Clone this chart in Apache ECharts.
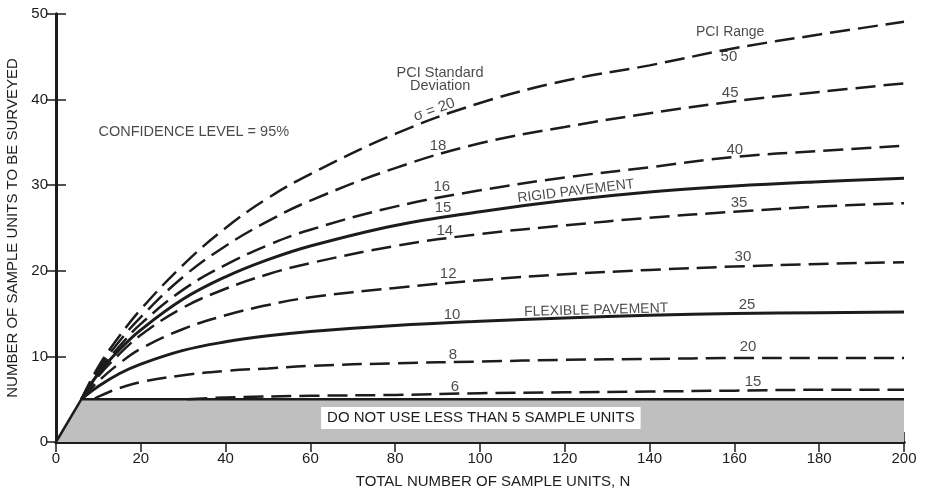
<!DOCTYPE html>
<html>
<head>
<meta charset="utf-8">
<script src="https://cdn.jsdelivr.net/npm/echarts@6/dist/echarts.min.js"></script>
<style>
  html, body { margin: 0; padding: 0; background: #fff; }
  #main { width: 929px; height: 491px; }
</style>
</head>
<body>
<div id="main"></div>
<script>
// sample units N (x) shared by the upper curves
const N = [6, 10, 15, 20, 30, 40, 50, 60, 80, 100, 120, 140, 160, 180, 200]
// n, one array per PCI standard deviation
const sigma20 = [5, 8.8, 12.4, 15.5, 20.7, 25.0, 28.5, 31.3, 36.0, 39.6, 42.2, 44.0, 46.0, 47.6, 49.1]
const sigma18 = [5, 8.5, 11.8, 14.6, 19.3, 22.9, 25.8, 28.2, 32.0, 34.9, 36.8, 38.4, 39.8, 40.9, 41.9]
const sigma16 = [5, 8.2, 11.2, 13.8, 17.8, 20.7, 23.0, 24.8, 27.5, 29.4, 30.9, 32.1, 33.3, 34.0, 34.6]
const sigma15 = [5, 8.0, 10.8, 13.1, 16.7, 19.3, 21.3, 22.9, 25.3, 26.9, 28.2, 29.2, 29.9, 30.4, 30.8]
const sigma14 = [5, 7.7, 10.3, 12.5, 15.7, 17.9, 19.6, 20.9, 22.9, 24.3, 25.3, 26.2, 26.9, 27.5, 27.9]
const sigma12 = [5, 7.1, 9.2, 10.9, 13.2, 14.8, 16.0, 16.9, 18.0, 18.9, 19.6, 20.1, 20.5, 20.8, 21.0]
const sigma10 = [5, 6.5, 8.0, 9.1, 10.7, 11.7, 12.4, 12.9, 13.6, 14.1, 14.5, 14.8, 15.0, 15.1, 15.2]
const N8 = [9, 10, 15, 20, 30, 40, 50, 60, 80, 100, 120, 140, 160, 180, 200]
const sigma8 = [5, 5.3, 6.3, 7.0, 7.8, 8.3, 8.6, 8.9, 9.2, 9.4, 9.6, 9.7, 9.8, 9.8, 9.8]
const N6 = [31, 40, 60, 80, 100, 120, 140, 160, 180, 200]
const sigma6 = [5.0, 5.2, 5.4, 5.5, 5.7, 5.8, 5.9, 6.0, 6.1, 6.1]
// minimum sample floor
const floorN = [0, 6, 200]
const floorValues = [0, 5, 5]

const xTicks = [0, 20, 40, 60, 80, 100, 120, 140, 160, 180, 200]
const yTicks = [0, 10, 20, 30, 40, 50]

const ink = '#1c1c1c'
const font = 'Liberation Sans'

function pairs (xs, ys) {
  return xs.map((x, i) => [x, ys[i]])
}

const curves = [
  { name: 'σ=20', x: N, y: sigma20, solid: false },
  { name: 'σ=18', x: N, y: sigma18, solid: false },
  { name: 'σ=16', x: N, y: sigma16, solid: false },
  { name: 'σ=15', x: N, y: sigma15, solid: true },
  { name: 'σ=14', x: N, y: sigma14, solid: false },
  { name: 'σ=12', x: N, y: sigma12, solid: false },
  { name: 'σ=10', x: N, y: sigma10, solid: true },
  { name: 'σ=8', x: N8, y: sigma8, solid: false },
  { name: 'σ=6', x: N6, y: sigma6, solid: false }
]

// text notes placed in data space: [text, N, n, rotate, size]
const notes = [
  ['PCI Standard\nDeviation', 90.6, 42.4, 0, 14.5],
  ['σ = 20', 89.2, 38.8, 20, 15],
  ['18', 90.1, 34.6, 0, 15],
  ['16', 91.0, 29.8, 0, 15],
  ['15', 91.3, 27.3, 0, 15],
  ['14', 91.7, 24.7, 0, 15],
  ['12', 92.5, 19.6, 0, 15],
  ['10', 93.4, 14.8, 0, 15],
  ['8', 93.6, 10.2, 0, 15],
  ['6', 94.1, 6.5, 0, 15],
  ['PCI Range', 159.0, 47.9, 0, 14],
  ['50', 158.7, 45.0, 0, 15],
  ['45', 159.0, 40.8, 0, 15],
  ['40', 160.1, 34.1, 0, 15],
  ['35', 161.1, 27.9, 0, 15],
  ['30', 162.0, 21.6, 0, 15],
  ['25', 163.0, 16.0, 0, 15],
  ['20', 163.2, 11.1, 0, 15],
  ['15', 164.4, 7.0, 0, 15],
  ['RIGID PAVEMENT', 122.6, 29.3, 7, 14],
  ['FLEXIBLE PAVEMENT', 127.4, 15.4, 1.5, 14],
  ['CONFIDENCE LEVEL = 95%', 32.5, 36.2, 0, 14.5]
]

const series = []

series.push({
  name: 'floor',
  type: 'line',
  data: pairs(floorN, floorValues),
  symbol: 'none',
  lineStyle: { color: ink, width: 2.5 },
  areaStyle: { color: '#bfbfbf', opacity: 1 },
  z: 1,
  markPoint: {
    symbol: 'rect',
    symbolSize: 0,
    data: [{ coord: [100.2, 2.8], value: 'DO NOT USE LESS THAN 5 SAMPLE UNITS' }],
    label: {
      show: true,
      formatter: '{c}',
      color: ink,
      fontFamily: font,
      fontSize: 15,
      backgroundColor: '#fff',
      padding: [4, 6, 3, 6]
    }
  }
})

curves.forEach(c => {
  series.push({
    name: c.name,
    type: 'line',
    data: pairs(c.x, c.y),
    smooth: 0.4,
    symbol: 'none',
    z: 3,
    lineStyle: {
      color: ink,
      width: c.solid ? 3 : 2.5,
      type: c.solid ? 'solid' : [20, 8]
    }
  })
})

series.push({
  name: 'notes',
  type: 'scatter',
  symbolSize: 0,
  z: 5,
  data: notes.map(n => ({
    value: [n[1], n[2]],
    label: {
      show: true,
      position: 'inside',
      formatter: n[0],
      rotate: n[3],
      fontSize: n[4],
      lineHeight: 13,
      color: ink,
      fontFamily: font
    }
  }))
})

const xBase = {
  type: 'value',
  min: xTicks[0],
  max: xTicks[xTicks.length - 1],
  interval: xTicks[1] - xTicks[0],
  splitLine: { show: false },
  axisLine: { lineStyle: { color: ink, width: 3 } },
  axisTick: { inside: true, length: 10, lineStyle: { color: ink, width: 1.5 } }
}
const yBase = {
  type: 'value',
  min: yTicks[0],
  max: yTicks[yTicks.length - 1],
  interval: yTicks[1] - yTicks[0],
  splitLine: { show: false },
  axisLine: { lineStyle: { color: ink, width: 3 } },
  axisTick: { inside: true, length: 10, lineStyle: { color: ink, width: 1.5 } }
}

const option = {
  backgroundColor: '#fff',
  animation: false,
  grid: { left: 56, right: 25, top: 14, bottom: 49, outerBoundsMode: 'none', containLabel: false },
  xAxis: [
    Object.assign({}, xBase, {
      position: 'bottom',
      name: 'TOTAL NUMBER OF SAMPLE UNITS, N',
      nameLocation: 'middle',
      nameGap: 32,
      nameTextStyle: { color: ink, fontFamily: font, fontSize: 15, padding: [0, 0, 0, 26] },
      axisLabel: { color: ink, fontFamily: font, fontSize: 15, margin: 9 }
    }),
    Object.assign({}, xBase, { position: 'top', axisLabel: { show: false } })
  ],
  yAxis: [
    Object.assign({}, yBase, {
      position: 'left',
      name: 'NUMBER OF SAMPLE UNITS TO BE SURVEYED',
      nameLocation: 'middle',
      nameGap: 36,
      nameTextStyle: { color: ink, fontFamily: font, fontSize: 15 },
      axisLabel: { color: ink, fontFamily: font, fontSize: 15, margin: 8 }
    }),
    Object.assign({}, yBase, { position: 'right', axisLabel: { show: false } })
  ],
  series: series
}

const myChart = echarts.init(document.getElementById('main'))
myChart.setOption(option)
</script>
</body>
</html>
